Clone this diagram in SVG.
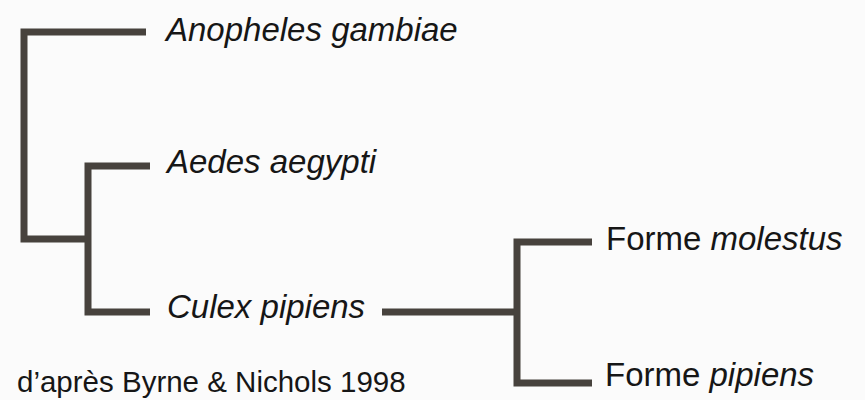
<svg xmlns="http://www.w3.org/2000/svg" width="865" height="400" viewBox="0 0 865 400">
  <style>
    .br { fill: none; stroke: #47423d; stroke-width: 7; stroke-linejoin: miter; stroke-linecap: butt; }
    .lbl { font-family: "Liberation Sans", Arial, sans-serif; font-size: 33px; fill: #161616; }
    .it { font-style: italic; }
    .cap { font-family: "Liberation Sans", Arial, sans-serif; font-size: 29.5px; fill: #161616; }
  </style>
  <rect x="0" y="0" width="865" height="400" fill="#fbfbfb"/>
  <g id="connectors">
    <path class="br" d="M146,32 H24 V239 H88"/>
    <path class="br" d="M150,166 H88 V312 H150"/>
    <path class="br" d="M382,312 H517"/>
    <path class="br" d="M592,242 H517 V383 H592"/>
  </g>
  <g id="anopheles">
    <text class="lbl it" x="166" y="41">Anopheles gambiae</text>
  </g>
  <g id="aedes">
    <text class="lbl it" x="167" y="173">Aedes aegypti</text>
  </g>
  <g id="culex">
    <text class="lbl it" x="167" y="318">Culex pipiens</text>
  </g>
  <g id="molestus">
    <text class="lbl" x="606" y="250">Forme <tspan class="it">molestus</tspan></text>
  </g>
  <g id="pipiens">
    <text class="lbl" x="605" y="386">Forme <tspan class="it">pipiens</tspan></text>
  </g>
  <g id="caption">
    <text class="cap" x="17" y="392">d’après Byrne &amp; Nichols 1998</text>
  </g>
</svg>
